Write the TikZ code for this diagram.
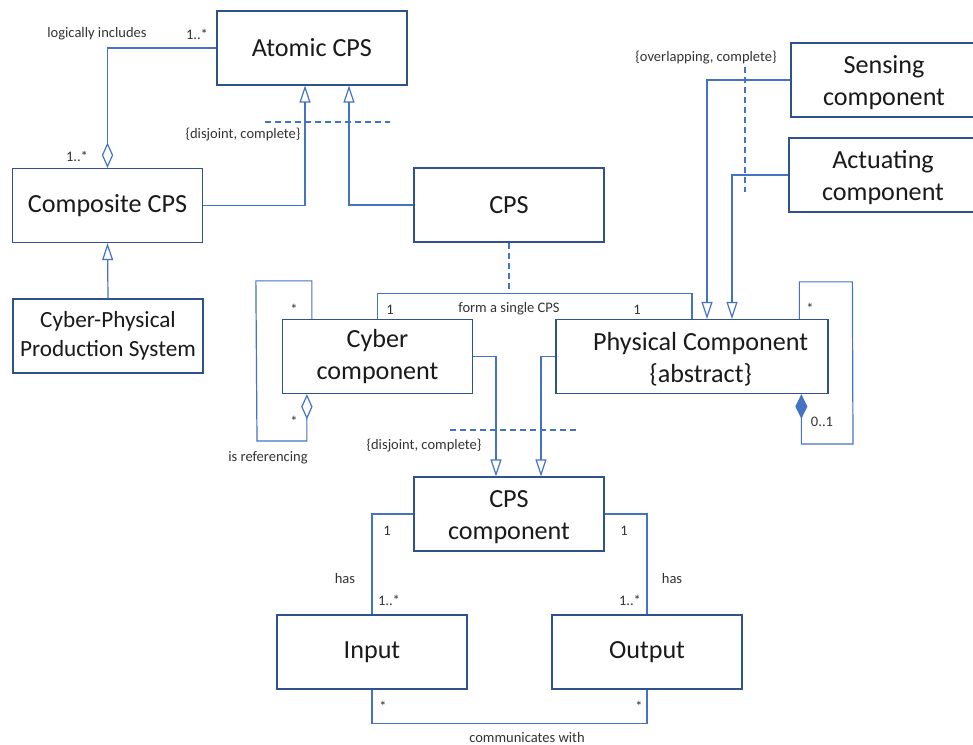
\documentclass[tikz,border=0pt]{standalone}
\usepackage{fontspec}
\setmainfont{Carlito}
\usetikzlibrary{arrows.meta,calc}
\definecolor{boxc}{HTML}{2F528F}
\definecolor{linec}{HTML}{4472C4}
\definecolor{txtc}{HTML}{1A1A1A}
\definecolor{lblc}{HTML}{333333}
\newcommand{\tstrut}{\rule{0pt}{17.2pt}}
\tikzset{
  box/.style={draw=boxc, line width=0.95pt, fill=white, minimum width=142.5pt, minimum height=55.5pt,
    inner sep=0pt, align=center, text=txtc, font=\fontsize{19.6}{24}\selectfont},
  conn/.style={draw=linec, line width=0.9pt},
  gen/.style={conn, -{Triangle[open,length=12.75pt,width=8.25pt]}},
  agg/.style={conn, -{Diamond[open,length=19pt,width=8.5pt]}},
  compo/.style={conn, -{Diamond[fill=linec,length=18.5pt,width=9pt]}},
  dsh/.style={draw=linec, line width=0.8pt, dash pattern=on 4.5pt off 3pt},
  lbl/.style={inner sep=0pt, text=lblc, font=\fontsize{10.9}{13}\selectfont},
}
\begin{document}
\begin{tikzpicture}[x=0.75pt,y=-0.75pt]
\clip (0,0) rectangle (973,744);
\fill[white] (0,0) rectangle (973,744);
% boxes
\node[box] (atomic) at (312,48) {Atomic CPS};
\node[box] (composite) at (107.5,205.5) {Composite CPS};
\node[box, font=\fontsize{17.4}{21.8}\selectfont] (cpps) at (108,336) {Cyber-Physical\\Production System};
\node[box] (cps) at (509,205) {CPS};
\node[box] (cyber) at (377.5,356.5) {Cyber\\component};
\node[box, minimum width=204pt] (phys) at (692,356.5) {\rule{0pt}{17.2pt}\hspace*{13pt}Physical Component\\\hspace*{13pt}\{abstract\}};
\node[box] (cpscomp) at (509,514) {\tstrut CPS\\component};
\node[box] (input) at (372,652) {Input};
\node[box] (output) at (647,652) {Output};
\node[box, minimum width=139.5pt] (sensing) at (884,80) {\tstrut Sensing\\component};
\node[box, minimum width=141pt] (actuating) at (883,175) {\tstrut Actuating\\component};
% aggregation logically includes
\draw[agg] (atomic.west) -| (composite.north);
% generalizations to Atomic CPS
\draw[gen] (composite.east) -| ($(atomic.south)+(-7,0)$);
\draw[gen] (cps.west) -| ($(atomic.south)+(37,0)$);
\draw[dsh] (265,122) coordinate (d1a) -- (390,122) coordinate (d1b);
% CPPS generalization
\draw[gen] (cpps.north) -- (composite.south);
% form a single CPS
\coordinate (fsc) at ($(cps.south)+(0,51)$);
\draw[conn] (cyber.north) |- (fsc) -| (phys.north);
\draw[dsh] (cps.south) -- (fsc);
% cyber self reference
\coordinate (cs1) at ($(cyber.north west)+(30,0)$);
\coordinate (cs2) at ($(cyber.south west)+(25,0)$);
\draw[agg] (cs1) -- ++(0,-38) -- ++(-56,0) -- (257,441) -| (cs2);
% physical self composition
\coordinate (ps1) at ($(phys.north west)+(244,0)$);
\coordinate (ps2) at ($(phys.south west)+(246,0)$);
\draw[compo] (ps1) -- ++(0,-37) -- ++(53,0) -- (853,444) -| (ps2);
% generalizations to CPS component
\draw[gen] (cyber.east) -| ($(cpscomp.north)+(-13,0)$);
\draw[gen] (phys.west) -| ($(cpscomp.north)+(32,0)$);
\draw[dsh] (450,430) coordinate (d2a) -- (576,430) coordinate (d2b);
% sensing / actuating
\draw[gen] (sensing.west) -| ($(phys.north)+(15,0)$);
\draw[gen] (actuating.west) -| ($(phys.north)+(40,0)$);
\draw[dsh] (745,67) coordinate (d3a) -- (745,192) coordinate (d3b);
% has
\draw[conn] (cpscomp.west) -| (input.north);
\draw[conn] (cpscomp.east) -| (output.north);
% communicates with
\draw[conn] (input.south) -- ++(0,34) -| (output.south);
% labels
\node[lbl] (l1) at (97,34) {logically includes};
\node[lbl] (l2) at (197,34) {1..*};
\node[lbl] (l3) at (77,156) {1..*};
\node[lbl] (l4) at (243,134) {\{disjoint, complete\}};
\node[lbl] (l5) at (706,57) {\{overlapping, complete\}};
\node[lbl] (l6) at (390,310) {1};
\node[lbl] (l7) at (509,309) {form a single CPS};
\node[lbl] (l8) at (637,310) {1};
\node[lbl] (l9) at (294,309) {*};
\node[lbl] (l10) at (294,421) {*};
\node[lbl] (l11) at (268,458) {is referencing};
\node[lbl] (l12) at (424,445) {\{disjoint, complete\}};
\node[lbl] (l13) at (810,308) {*};
\node[lbl] (l14) at (822,422) {0..1};
\node[lbl] (l15) at (387,531) {1};
\node[lbl] (l16) at (345,578) {has};
\node[lbl] (l17) at (389,600) {1..*};
\node[lbl] (l18) at (624,531) {1};
\node[lbl] (l19) at (672,578) {has};
\node[lbl] (l20) at (630,600) {1..*};
\node[lbl] (l21) at (383,706) {*};
\node[lbl] (l22) at (639,706) {*};
\node[lbl] (l23) at (527,737) {communicates with};
\end{tikzpicture}
\end{document}
